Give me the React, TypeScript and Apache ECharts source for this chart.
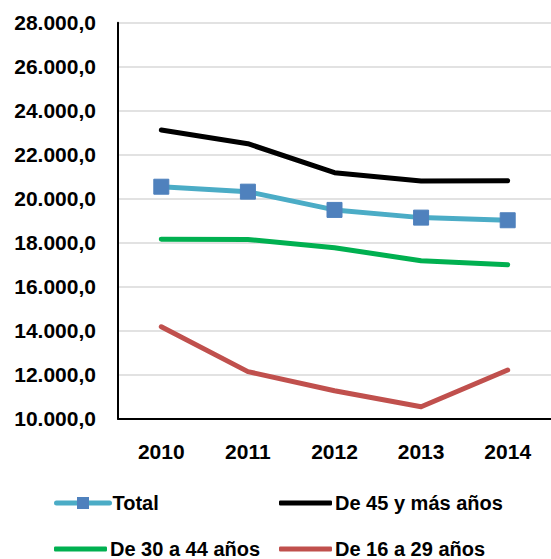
import React, { useEffect, useRef } from "react";
import * as echarts from "echarts";

const years = ["2010", "2011", "2012", "2013", "2014"];
const total = [20545, 20320, 19490, 19140, 19020];
const de45 = [23120, 22500, 21180, 20805, 20815];
const de30 = [18155, 18150, 17770, 17180, 17000];
const de16 = [14180, 12140, 11270, 10545, 12215];

const names = ["Total", "De 45 y más años", "De 30 a 44 años", "De 16 a 29 años"];

const FONT = "'Liberation Sans', Arial, sans-serif";

function fmt(v: number): string {
  const s = Math.round(v).toString().replace(/\B(?=(\d{3})+(?!\d))/g, ".");
  return s + ",0";
}

export default function App() {
  const ref = useRef<HTMLDivElement>(null);
  useEffect(() => {
    if (!ref.current) return;
    const chart = echarts.init(ref.current, undefined, { renderer: "svg" });
    const textStyle = {
      fontFamily: FONT,
      fontWeight: "bold",
      fontSize: 20,
      color: "#000",
    };
    const lineLegend = (name: string, left: number, top: number) => ({
      data: [{ name, icon: "roundRect" }],
      left,
      top,
      itemWidth: 53,
      itemHeight: 5,
      itemGap: 0,
      padding: 0,
      textStyle: { ...textStyle, padding: [0, 0, 0, -2] },
    });
    chart.setOption({
      animation: false,
      backgroundColor: "#fff",
      grid: { left: 118, right: -3, top: 22.7, bottom: 140.3, containLabel: false },
      legend: [
        {
          data: [names[0]],
          left: 54,
          top: 493,
          itemWidth: 53,
          itemHeight: 15,
          itemGap: 0,
          padding: 0,
          lineStyle: { width: 5, cap: "round" },
          textStyle: { ...textStyle, padding: [0, 0, 0, -2] },
        },
        lineLegend(names[1], 279, 493),
        lineLegend(names[2], 54, 539),
        lineLegend(names[3], 279, 539),
      ],
      xAxis: {
        type: "category",
        data: years,
        axisLine: { lineStyle: { color: "#000", width: 2 } },
        axisTick: { show: false },
        axisLabel: {
          fontFamily: FONT,
          fontWeight: "bold",
          fontSize: 21,
          color: "#000",
          margin: 22,
        },
        splitLine: { show: false },
      },
      yAxis: {
        type: "value",
        min: 10000,
        max: 28000,
        interval: 2000,
        axisLine: { show: true, lineStyle: { color: "#000", width: 2 } },
        axisTick: { show: false },
        axisLabel: {
          fontFamily: FONT,
          fontWeight: "bold",
          fontSize: 21,
          color: "#000",
          margin: 22,
          formatter: (v: number) => fmt(v),
        },
        splitLine: { show: true, lineStyle: { color: "#D9D9D9", width: 1.5 } },
      },
      series: [
        {
          name: names[0],
          type: "line",
          data: total,
          symbol: "rect",
          symbolSize: 15,
          itemStyle: { color: "#4F81BD", borderColor: "#4F81BD" },
          lineStyle: { color: "#4BACC6", width: 5, cap: "round", join: "round" },
          z: 4,
        },
        {
          name: names[1],
          type: "line",
          data: de45,
          symbol: "none",
          itemStyle: { color: "#000" },
          lineStyle: { color: "#000", width: 5, cap: "round", join: "round" },
        },
        {
          name: names[2],
          type: "line",
          data: de30,
          symbol: "none",
          itemStyle: { color: "#00B050" },
          lineStyle: { color: "#00B050", width: 5, cap: "round", join: "round" },
        },
        {
          name: names[3],
          type: "line",
          data: de16,
          symbol: "none",
          itemStyle: { color: "#C0504D" },
          lineStyle: { color: "#C0504D", width: 5, cap: "round", join: "round" },
        },
      ],
    });
    return () => chart.dispose();
  }, []);
  return (
    <div
      ref={ref}
      style={{ position: "fixed", left: 0, top: 0, width: 551, height: 559, background: "#fff" }}
    />
  );
}
